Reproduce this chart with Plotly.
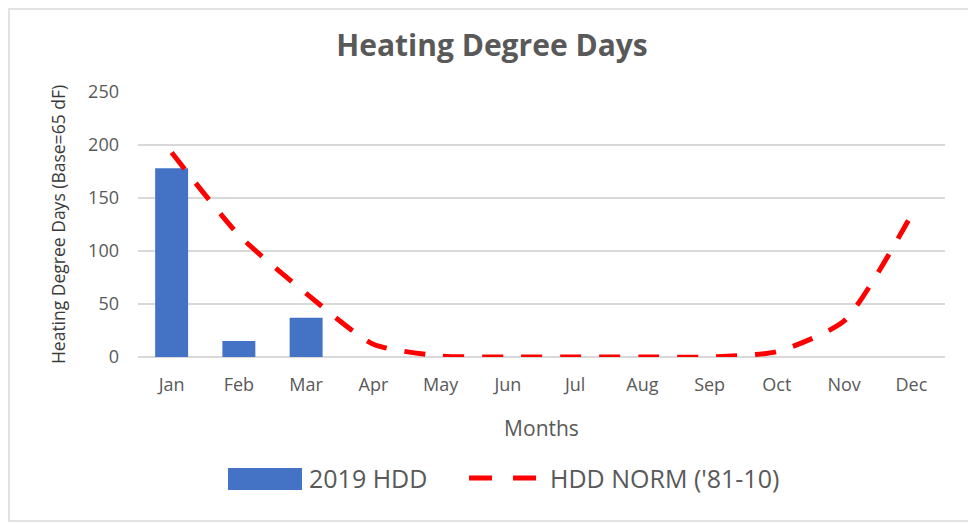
import plotly.graph_objects as go

# chart data
months = ["Jan", "Feb", "Mar", "Apr", "May", "Jun", "Jul", "Aug", "Sep", "Oct", "Nov", "Dec"]
hdd_2019 = [178, 15, 37, None, None, None, None, None, None, None, None, None]
hdd_norm = [193, 115, 60, 12, 1, 0, 0, 0, 0, 5, 34, 134]
y_ticks = [0, 50, 100, 150, 200, 250]

font_family = "'Open Sans', sans-serif"
grey_text = "#595959"
bar_color = "#4472c4"
line_color = "#ff0000"

fig = go.Figure()

fig.add_trace(go.Bar(
    x=months,
    y=hdd_2019,
    name="2019 HDD",
    marker=dict(color=bar_color, line=dict(width=0)),
    showlegend=False,
))

fig.add_trace(go.Scatter(
    x=months,
    y=hdd_norm,
    name="HDD NORM ('81-10)",
    mode="lines",
    line=dict(color=line_color, width=5, dash="21px,18px", shape="spline", smoothing=0.6),
    showlegend=False,
))

# page body has an 8px margin, so the figure is a little smaller than the window
fig.update_layout(
    width=968,
    height=516,
    paper_bgcolor="white",
    plot_bgcolor="white",
    margin=dict(l=130, r=31, t=84, b=167),
    bargap=0.51,
    font=dict(family=font_family, color=grey_text, size=18),
    title=dict(
        text="<b>Heating Degree Days</b>",
        x=0.5, xanchor="center",
        y=0.928, yanchor="middle",
        font=dict(size=30, color=grey_text, family=font_family),
    ),
    xaxis=dict(
        title=dict(text="Months", font=dict(size=21, color=grey_text), standoff=26),
        showgrid=False,
        showline=False,
        ticks="",
        tickfont=dict(size=18, color=grey_text),
        ticklabelstandoff=15,
    ),
    yaxis=dict(
        title=dict(text="Heating Degree Days (Base=65 dF)", font=dict(size=17.5, color="#3a3a3a"), standoff=17),
        range=[0, 250],
        tickvals=y_ticks,
        showgrid=True,
        gridcolor="#d9d9d9",
        gridwidth=1.5,
        zeroline=True,
        zerolinecolor="#d9d9d9",
        zerolinewidth=1.5,
        showline=False,
        ticks="",
        tickfont=dict(size=18, color=grey_text),
        ticklabelstandoff=18,
    ),
    showlegend=False,
)

# legend drawn by hand so the swatches get Excel's wide shape
fig.add_shape(type="rect", xref="paper", yref="paper",
              x0=0.1115, x1=0.2032, y0=-0.5019, y1=-0.4189,
              line=dict(width=0), fillcolor=bar_color)
fig.add_annotation(text="2019 HDD", xref="paper", yref="paper",
                   x=0.2094, y=-0.4566, xanchor="left", yanchor="middle",
                   showarrow=False, font=dict(size=25, color=grey_text))
fig.add_shape(type="line", xref="paper", yref="paper",
              x0=0.4102, x1=0.4957, y0=-0.4566, y1=-0.4566,
              line=dict(color=line_color, width=5, dash="23px,21px"))
fig.add_annotation(text="HDD NORM ('81-10)", xref="paper", yref="paper",
                   x=0.5081, y=-0.4566, xanchor="left", yanchor="middle",
                   showarrow=False, font=dict(size=25, color=grey_text))

# light frame round the whole chart
fig.add_shape(
    type="rect", xref="paper", yref="paper",
    x0=-0.1599, x1=1.0322, y0=-0.6189, y1=1.3132,
    line=dict(color="#d9d9d9", width=1.5),
    fillcolor="rgba(0,0,0,0)",
    layer="below",
)

fig.write_html("out.html")
